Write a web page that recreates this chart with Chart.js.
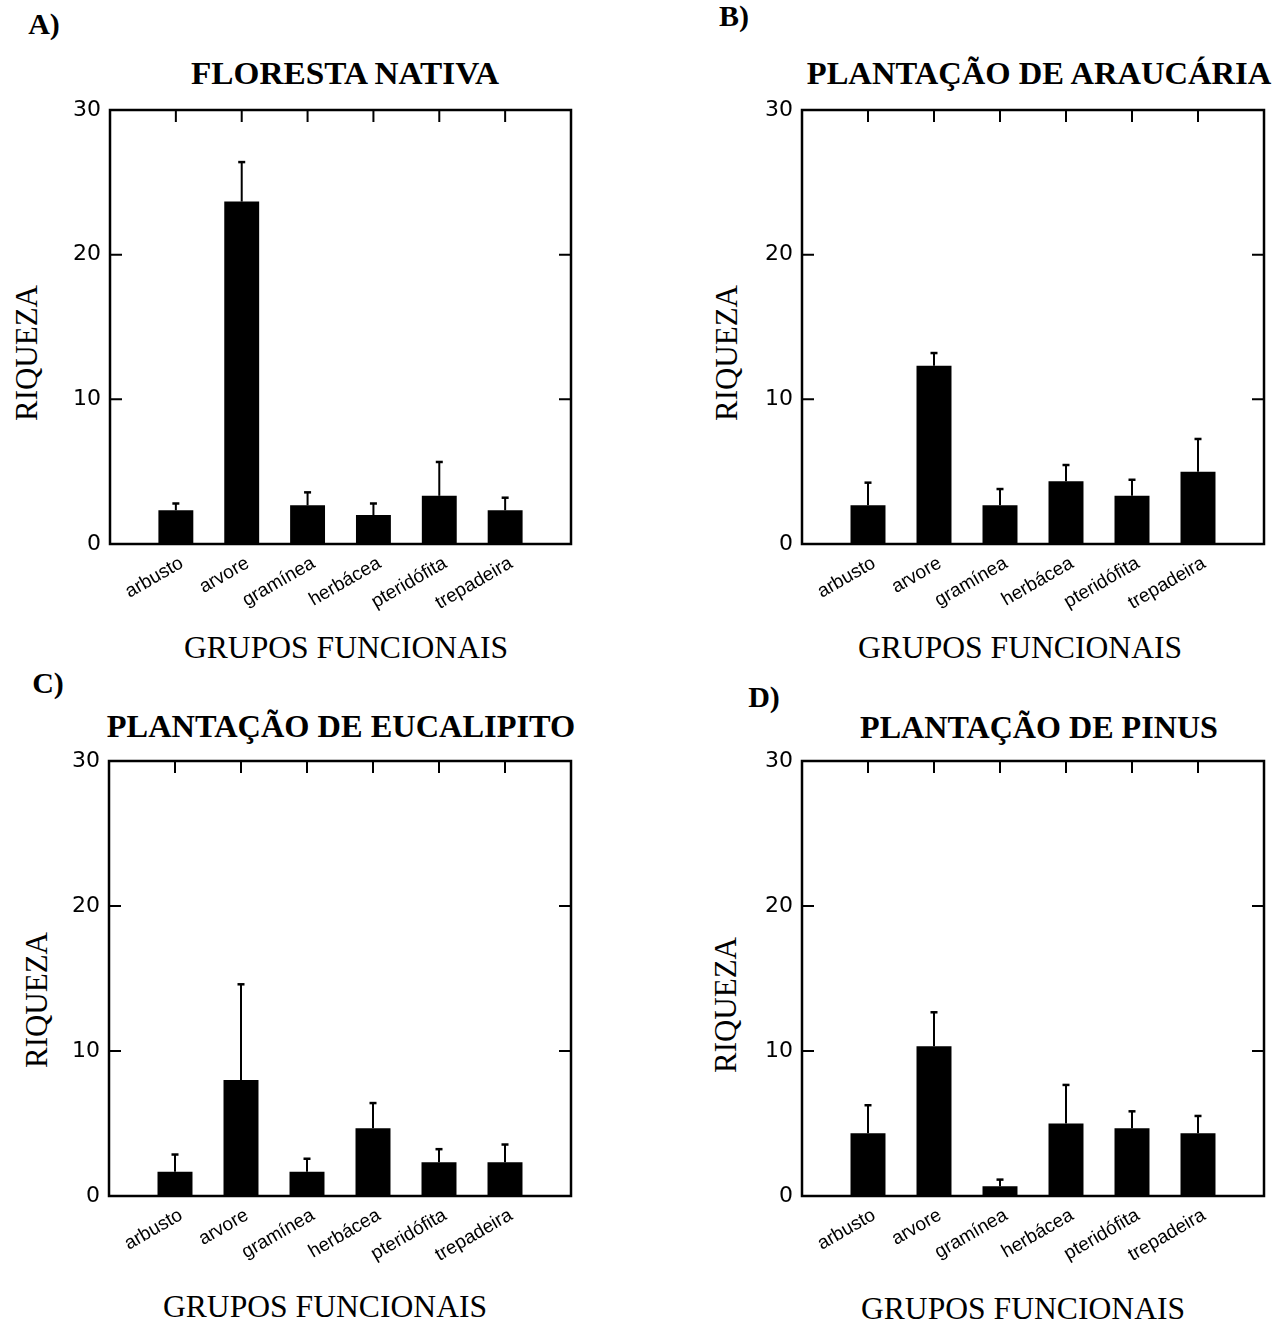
<!DOCTYPE html>
<html>
<head>
<meta charset="utf-8">
<script src="https://cdn.jsdelivr.net/npm/chart.js@4"></script>
<style>
  html, body { margin: 0; padding: 0; background: #fff; }
  body { width: 1284px; height: 1328px; position: relative; overflow: hidden; }
  canvas { position: absolute; }
  .t { position: absolute; transform: translate(-50%, -50%); white-space: nowrap; color: #000; font-family: "Liberation Serif", "Times New Roman", serif; line-height: 1; }
  .letter { font-size: 30px; font-weight: bold; }
  .title { font-size: 32px; font-weight: bold; }
  .xt { font-size: 31px; transform: translate(-50%, -50%) scaleX(1.02); }
  .yt { font-size: 31px; transform: translate(-50%, -50%) rotate(-90deg); }
</style>
</head>
<body>
<div class="t letter" style="left:44px;top:24px">A)</div>
<div class="t letter" style="left:734px;top:16px">B)</div>
<div class="t letter" style="left:48px;top:683px">C)</div>
<div class="t letter" style="left:764px;top:697px">D)</div>

<div class="t title" style="left:345px;top:73px;transform:translate(-50%,-50%) scaleX(1.04)">FLORESTA NATIVA</div>
<div class="t title" style="left:1039px;top:73px;transform:translate(-50%,-50%) scaleX(1.018)">PLANTAÇÃO DE ARAUCÁRIA</div>
<div class="t title" style="left:341px;top:726px;transform:translate(-50%,-50%) scaleX(1.012)">PLANTAÇÃO DE EUCALIPITO</div>
<div class="t title" style="left:1039px;top:727px;transform:translate(-50%,-50%) scaleX(1.003)">PLANTAÇÃO DE PINUS</div>

<div class="t xt" style="left:346px;top:647px">GRUPOS FUNCIONAIS</div>
<div class="t xt" style="left:1020px;top:647px">GRUPOS FUNCIONAIS</div>
<div class="t xt" style="left:325px;top:1306px">GRUPOS FUNCIONAIS</div>
<div class="t xt" style="left:1023px;top:1308px">GRUPOS FUNCIONAIS</div>

<div class="t yt" style="left:26px;top:353px">RIQUEZA</div>
<div class="t yt" style="left:726px;top:353px">RIQUEZA</div>
<div class="t yt" style="left:36px;top:1000px">RIQUEZA</div>
<div class="t yt" style="left:725px;top:1005px">RIQUEZA</div>

<canvas id="cA" width="531" height="554" style="left:50px;top:90px;width:531px;height:554px"></canvas>
<canvas id="cB" width="532" height="554" style="left:742px;top:90px;width:532px;height:554px"></canvas>
<canvas id="cC" width="532" height="555" style="left:49px;top:741px;width:532px;height:555px"></canvas>
<canvas id="cD" width="532" height="555" style="left:742px;top:741px;width:532px;height:555px"></canvas>

<script>
// ---- data ----
const categories = ['arbusto', 'arvore', 'gramínea', 'herbácea', 'pteridófita', 'trepadeira'];
const yTickValues = [0, 10, 20, 30];

const meanA = [2.33, 23.67, 2.67, 2.0, 3.33, 2.33];
const errA  = [0.47, 2.73, 0.90, 0.80, 2.34, 0.87];

const meanB = [2.67, 12.33, 2.67, 4.33, 3.33, 5.0];
const errB  = [1.57, 0.87, 1.13, 1.13, 1.11, 2.26];

const meanC = [1.67, 8.0, 1.67, 4.67, 2.33, 2.33];
const errC  = [1.19, 6.60, 0.90, 1.74, 0.90, 1.22];

const meanD = [4.33, 10.33, 0.67, 5.0, 4.67, 4.33];
const errD  = [1.93, 2.34, 0.46, 2.66, 1.17, 1.19];

// ---- plugins ----
const framePlugin = {
  id: 'frameTicks',
  afterDatasetsDraw(chart) {
    const ctx = chart.ctx, a = chart.chartArea;
    const xs = chart.scales.x, ys = chart.scales.y;
    ctx.save();
    ctx.strokeStyle = '#000';
    ctx.lineWidth = 2.5;
    ctx.strokeRect(a.left, a.top, a.right - a.left, a.bottom - a.top);
    ctx.lineWidth = 2;
    ctx.beginPath();
    categories.forEach((c, i) => {
      const x = xs.getPixelForValue(i);
      ctx.moveTo(x, a.top); ctx.lineTo(x, a.top + 12);
    });
    yTickValues.forEach(v => {
      const y = ys.getPixelForValue(v);
      ctx.moveTo(a.left, y); ctx.lineTo(a.left + 12, y);
      ctx.moveTo(a.right, y); ctx.lineTo(a.right - 12, y);
    });
    ctx.stroke();
    ctx.restore();
  }
};

const errorPlugin = {
  id: 'errorBars',
  afterDatasetsDraw(chart, args, opts) {
    const ctx = chart.ctx, ys = chart.scales.y;
    const meta = chart.getDatasetMeta(0);
    const means = opts.means, errs = opts.errs;
    ctx.save();
    ctx.strokeStyle = '#000';
    meta.data.forEach((bar, i) => {
      const yTop = ys.getPixelForValue(means[i] + errs[i]);
      ctx.lineWidth = 2;
      ctx.beginPath();
      ctx.moveTo(bar.x, bar.y);
      ctx.lineTo(bar.x, yTop);
      ctx.stroke();
      ctx.lineWidth = 2.5;
      ctx.beginPath();
      ctx.moveTo(bar.x - 3.5, yTop);
      ctx.lineTo(bar.x + 3.5, yTop);
      ctx.stroke();
    });
    ctx.restore();
  }
};

function zeroPad(s) {
  s.paddingTop = 0; s.paddingBottom = 0; s.paddingLeft = 0; s.paddingRight = 0;
}

function makePanel(id, means, errs) {
  new Chart(document.getElementById(id), {
    type: 'bar',
    data: {
      datasets: [{
        data: means.map((v, i) => ({ x: i, y: v })),
        backgroundColor: '#000',
        borderWidth: 0,
        barPercentage: 0.53,
        categoryPercentage: 1.0
      }]
    },
    options: {
      responsive: false,
      animation: false,
      events: [],
      layout: { padding: { top: 20, right: 10, left: 0, bottom: 0 } },
      plugins: {
        legend: { display: false },
        tooltip: { enabled: false },
        title: { display: false },
        errorBars: { means: means, errs: errs }
      },
      scales: {
        x: {
          type: 'linear',
          min: -1,
          max: 6,
          offset: false,
          grid: { display: false, drawTicks: false },
          border: { display: false },
          afterBuildTicks: (s) => { s.ticks = categories.map((c, i) => ({ value: i })); },
          afterFit: (s) => { s.height = 100; zeroPad(s); },
          ticks: {
            autoSkip: false,
            minRotation: 30,
            maxRotation: 30,
            padding: 8,
            labelOffset: 6,
            color: '#000',
            font: { family: '"Liberation Sans", Arial, sans-serif', size: 19 },
            callback: (v) => categories[v] !== undefined ? categories[v] : ''
          }
        },
        y: {
          type: 'linear',
          min: 0,
          max: 30,
          grid: { display: false, drawTicks: false },
          border: { display: false },
          afterBuildTicks: (s) => { s.ticks = yTickValues.map(v => ({ value: v })); },
          afterFit: (s) => { s.width = 60; zeroPad(s); },
          ticks: {
            padding: 9,
            color: '#000',
            font: { family: '"DejaVu Sans", sans-serif', size: 22 }
          }
        }
      }
    },
    plugins: [framePlugin, errorPlugin]
  });
}

makePanel('cA', meanA, errA);
makePanel('cB', meanB, errB);
makePanel('cC', meanC, errC);
makePanel('cD', meanD, errD);
</script>
</body>
</html>
